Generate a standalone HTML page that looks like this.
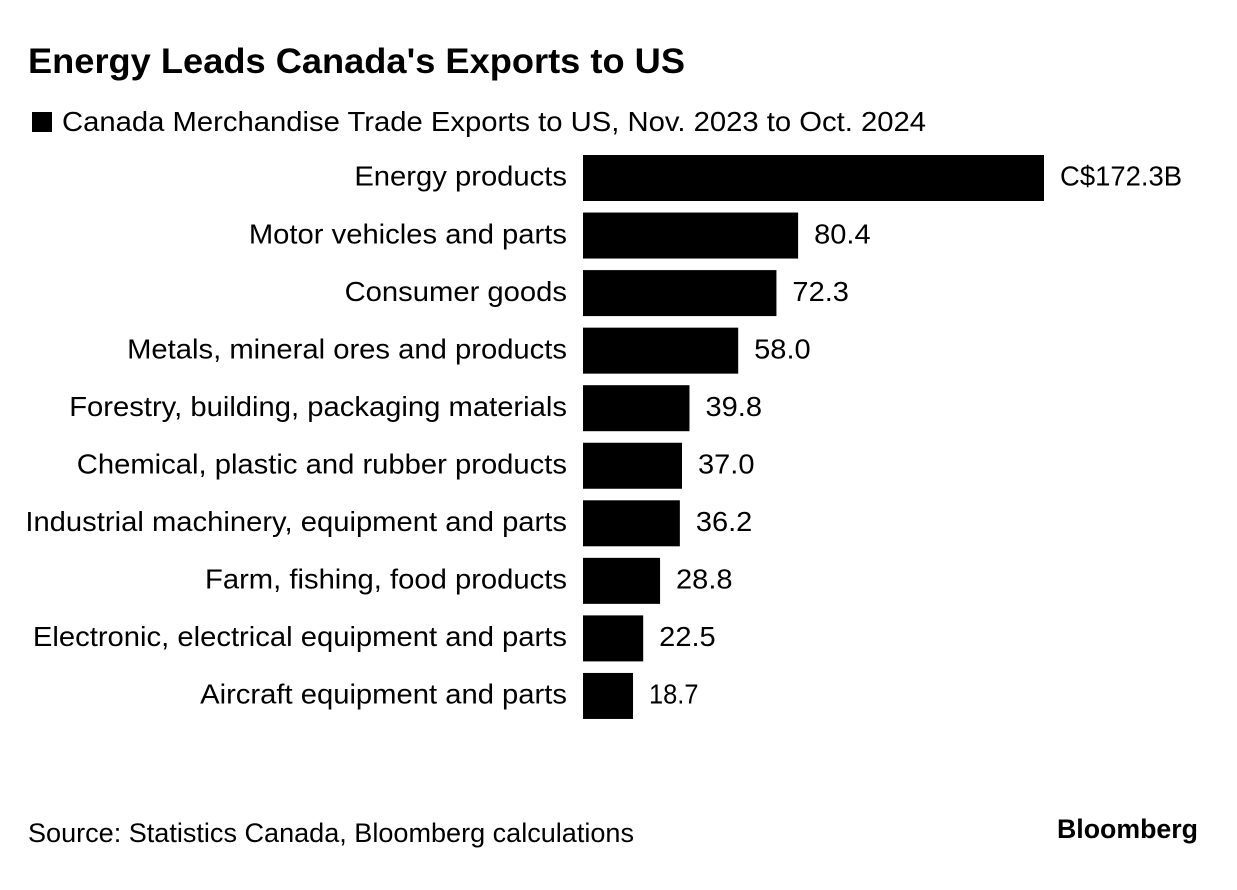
<!DOCTYPE html>
<html>
<head>
<meta charset="utf-8">
<style>
html,body{margin:0;padding:0;background:#fff;}
body{width:1237px;height:890px;overflow:hidden;position:relative;font-family:"Liberation Sans",sans-serif;color:#000;}
svg{position:absolute;left:0;top:0;}
</style>
</head>
<body>
<svg id="chart" width="1237" height="890" viewBox="0 0 1237 890">
  <text x="28" y="73" font-family="Liberation Sans" font-size="35.5" font-weight="bold" textLength="657" lengthAdjust="spacingAndGlyphs">Energy Leads Canada's Exports to US</text>
  <rect x="32" y="112" width="20" height="20" fill="#000"/>
  <text x="62" y="131" font-family="Liberation Sans" font-size="27.5" textLength="864" lengthAdjust="spacingAndGlyphs">Canada Merchandise Trade Exports to US, Nov. 2023 to Oct. 2024</text>
  <g id="bars"></g>
  <text x="28" y="842" font-family="Liberation Sans" font-size="26.5" textLength="606" lengthAdjust="spacingAndGlyphs">Source: Statistics Canada, Bloomberg calculations</text>
  <text x="1057" y="838" font-family="Liberation Sans" font-size="27" font-weight="bold" textLength="141" lengthAdjust="spacingAndGlyphs">Bloomberg</text>
</svg>
<script>
const categories = ["Energy products","Motor vehicles and parts","Consumer goods","Metals, mineral ores and products","Forestry, building, packaging materials","Chemical, plastic and rubber products","Industrial machinery, equipment and parts","Farm, fishing, food products","Electronic, electrical equipment and parts","Aircraft equipment and parts"];
const seriesValues = [172.3,80.4,72.3,58.0,39.8,37.0,36.2,28.8,22.5,18.7];
const valueLabels = ["C$172.3B","80.4","72.3","58.0","39.8","37.0","36.2","28.8","22.5","18.7"];

const NS = "http://www.w3.org/2000/svg";
const group = document.getElementById("bars");
const x0 = 583, pxPerUnit = 461 / 172.3;
const y0 = 155, step = 57.55, barH = 46, baselineOffset = 30.7;
const categoryStretch = 1.062, valueStretch = 1.055, narrowOneAdjust = 7;
function xScale(v){ return v * pxPerUnit; }
function yScale(i){ return y0 + i * step; }
function addText(x, y, str, anchor){
  const t = document.createElementNS(NS, "text");
  t.setAttribute("x", x);
  t.setAttribute("y", y);
  t.setAttribute("font-family", "Liberation Sans");
  t.setAttribute("font-size", "27.5");
  t.setAttribute("text-anchor", anchor);
  t.setAttribute("lengthAdjust", "spacingAndGlyphs");
  t.textContent = str;
  group.appendChild(t);
  return t;
}
categories.forEach(function(cat, i){
  const y = yScale(i);
  const w = xScale(seriesValues[i]);
  const r = document.createElementNS(NS, "rect");
  r.setAttribute("x", x0);
  r.setAttribute("y", y);
  r.setAttribute("width", w);
  r.setAttribute("height", barH);
  r.setAttribute("fill", "#000");
  
  
  group.appendChild(r);
  const c = addText(567, y + baselineOffset, cat, "end");
  c.setAttribute("textLength", c.getComputedTextLength() * categoryStretch);
  
  
  const v = addText(x0 + w + 16, y + baselineOffset, valueLabels[i], "start");
  const ones = valueLabels[i].split("1").length - 1;
  v.setAttribute("textLength", v.getComputedTextLength() * valueStretch - ones * narrowOneAdjust);
  
  
});
</script>
</body>
</html>
